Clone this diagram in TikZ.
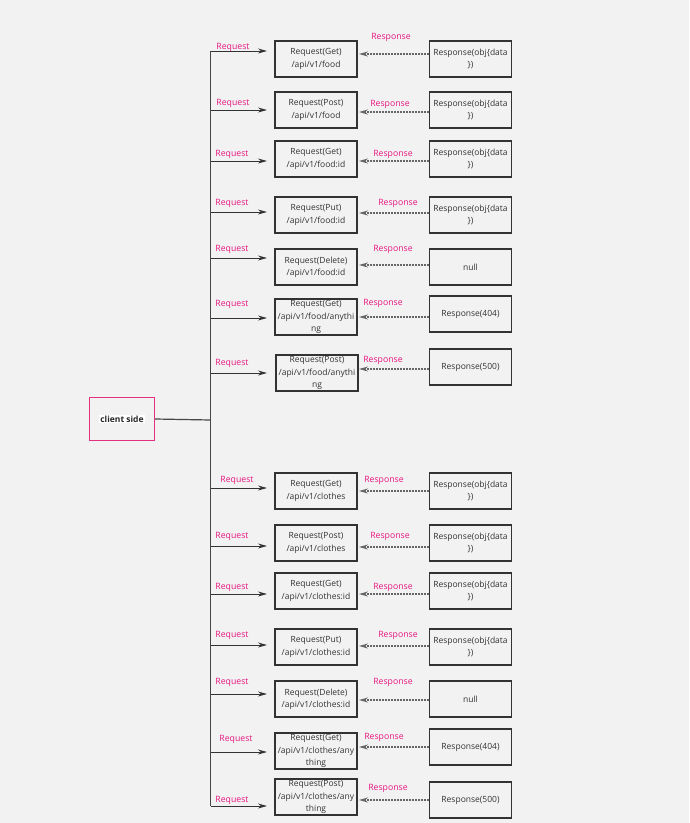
\documentclass[tikz,border=0pt]{standalone}
\usepackage{fontspec}
\setmainfont{Open Sans}
\usetikzlibrary{arrows.meta}
\definecolor{bg}{HTML}{F2F2F2}
\definecolor{ink}{HTML}{333333}
\definecolor{pinkl}{HTML}{E6177F}
\definecolor{pinkb}{HTML}{E4317F}
\tikzset{
  box/.style={draw=ink, line width=1.1pt, minimum width=82pt, minimum height=36pt, inner sep=0pt},
  txt/.style={text=ink, font=\fontsize{8.5}{12.3}\selectfont, align=center, inner sep=0pt},
  lbl/.style={text=pinkl, font=\fontsize{8.7}{10}\selectfont, inner sep=0pt},
  reqarrow/.style={draw=ink, line width=1pt, -{Stealth[length=9pt,width=5pt]}},
  resarrow/.style={draw=ink!75, line width=1.2pt, dash pattern=on 0.9pt off 0.6pt, -{Stealth[length=9pt,width=5pt,sep=0pt]}},
  trunk/.style={draw=ink!90, line width=1.2pt},
}
\begin{document}
\begin{tikzpicture}[x=1pt,y=-1pt]
\fill[bg] (0,0) rectangle (689,823);
\useasboundingbox (0,0) rectangle (689,823);
% client side
\node[draw=pinkb, line width=1.3pt, minimum width=65pt, minimum height=43pt, inner sep=0pt] (client) at (122,419) {};
\node[fill=white, text=black!85, font=\fontsize{8.5}{10}\selectfont\bfseries, inner sep=1pt] (clientlbl) at (client.center) {client side};
\coordinate (ttop) at (210.7,51);
\coordinate (tbot) at (210.7,806);
\coordinate (tmid) at (210.7,420);
\draw[trunk] (ttop) -- (tbot);
\draw[trunk] (client.east) -- (tmid);
\foreach \i/\qx/\qy/\qt/\ra/\rlx/\rly/\sy/\st/\sa/\slx/\sly in {
 1/316/41/{Request(Get)\\/api/v1/food}/51/233/47/41/{Response(obj\{data\\\})}/54/391/37,
 2/316/92/{Request(Post)\\/api/v1/food}/110/233/103/92/{Response(obj\{data\\\})}/112/390/104,
 3/316/141/{Request(Get)\\/api/v1/food:id}/161/232/154/141/{Response(obj\{data\\\})}/161/393/154,
 4/316/197/{Request(Put)\\/api/v1/food:id}/212/232/203/197/{Response(obj\{data\\\})}/213/398/203,
 5/316/249/{Request(Delete)\\/api/v1/food:id}/258/232/249/249/{null}/265/393/249,
 6/316/299/{Request(Get)\\/api/v1/food/anythi\\ng}/318/232/304/296/{Response(404)}/317/383/303,
 7/317/355/{Request(Post)\\/api/v1/food/anythi\\ng}/373/232/363/349/{Response(500)}/369/383/360,
 8/316/473/{Request(Get)\\/api/v1/clothes}/488/237/480/473/{Response(obj\{data\\\})}/491/384/480,
 9/316/525/{Request(Post)\\/api/v1/clothes}/546/232/536/525/{Response(obj\{data\\\})}/547/390/536,
 10/316/573/{Request(Get)\\/api/v1/clothes:id}/594/232/587/573/{Response(obj\{data\\\})}/594/393/587,
 11/316/629/{Request(Put)\\/api/v1/clothes:id}/645/232/635/629/{Response(obj\{data\\\})}/646/398/635,
 12/316/681/{Request(Delete)\\/api/v1/clothes:id}/694/232/682/681/{null}/700/393/682,
 13/316/733/{Request(Get)\\/api/v1/clothes/any\\thing}/752/236/739/729/{Response(404)}/747/384/737,
 14/316/779/{Request(Post)\\/api/v1/clothes/any\\thing}/806/232/800/782/{Response(500)}/800/388/788}
{
  \node[box] (q\i) at (\qx,\qy+18) {};
  \node[txt] (qt\i) at (q\i.center) {\qt};
  \node[box] (s\i) at (470.5,\sy+18) {};
  \node[txt] (st\i) at (s\i.center) {\st};
  \coordinate (a\i) at (210.7,\ra);
  \coordinate (b\i) at (267,\ra);
  \draw[reqarrow] (a\i) -- (b\i);
  \node[lbl] (rl\i) at (\rlx,\rly) {Request};
  \coordinate (c\i) at (429,\sa);
  \coordinate (d\i) at (359,\sa);
  \draw[resarrow] (c\i) -- (d\i);
  \node[lbl] (sl\i) at (\slx,\sly) {Response};
}
\end{tikzpicture}
\end{document}
